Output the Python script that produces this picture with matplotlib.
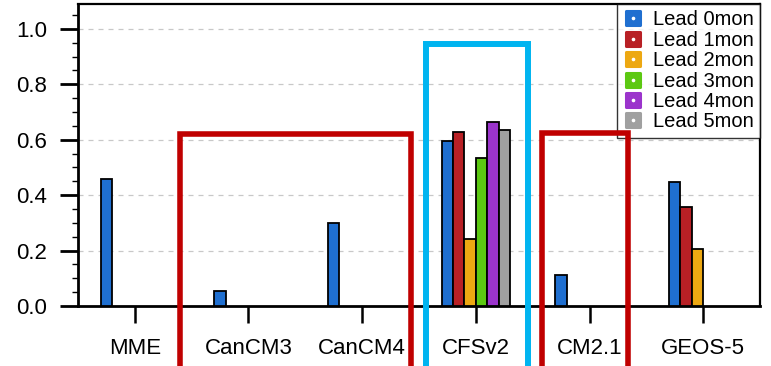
import matplotlib
matplotlib.use("Agg")
import matplotlib.pyplot as plt
import numpy as np
from matplotlib.patches import Rectangle
from matplotlib.lines import Line2D
from matplotlib.markers import MarkerStyle
from matplotlib.legend_handler import HandlerTuple
from matplotlib.ticker import MultipleLocator

plt.rcParams['font.family'] = ['Liberation Sans', 'DejaVu Sans']

models = ["MME", "CanCM3", "CanCM4", "CFSv2", "CM2.1", "GEOS-5"]
leads = ["Lead 0mon", "Lead 1mon", "Lead 2mon", "Lead 3mon", "Lead 4mon", "Lead 5mon"]
colors = ["#1f6fd0", "#b82025", "#eda812", "#5cc812", "#9b34cc", "#a0a0a0"]

# values per lead (NaN = no bar)
nan = np.nan
lead0 = [0.46, 0.053, 0.30, 0.597, 0.111, 0.449]
lead1 = [nan, nan, nan, 0.629, nan, 0.356]
lead2 = [nan, nan, nan, 0.243, nan, 0.205]
lead3 = [nan, nan, nan, 0.533, nan, nan]
lead4 = [nan, nan, nan, 0.665, nan, nan]
lead5 = [nan, nan, nan, 0.634, nan, nan]
series = [lead0, lead1, lead2, lead3, lead4, lead5]

fig = plt.figure(figsize=(7.71, 3.66), dpi=100)
ax = fig.add_axes([78/771, 60/366, (760-78)/771, (362-60)/366])

x = np.arange(len(models))
w = 0.1
for k, vals in enumerate(series):
    ax.bar(x + (k - 2.5) * w, vals, width=w, color=colors[k],
           edgecolor="black", linewidth=1.3, zorder=3)

ax.set_xlim(-0.5, 5.5)
ax.set_ylim(0, 1.09)
ax.set_xticks(x)
ax.set_xticklabels(models, fontsize=16)
ax.yaxis.set_major_locator(MultipleLocator(0.2))
ax.yaxis.set_minor_locator(MultipleLocator(0.05))
ax.set_yticks([0.0, 0.2, 0.4, 0.6, 0.8, 1.0])
ax.set_yticklabels(["0.0", "0.2", "0.4", "0.6", "0.8", "1.0"], fontsize=16)
ax.tick_params(axis='y', which='major', direction='out', length=13, width=2, pad=9)
ax.tick_params(axis='y', which='minor', direction='out', length=4.5, width=1)
ax.tick_params(axis='x', which='major', direction='out', length=12, width=1.8, pad=11)
ax.tick_params(axis='x', which='minor', bottom=False)

for yv in [0.2, 0.4, 0.6, 0.8, 1.0]:
    ax.axhline(yv, color="#c8c8c8", linestyle=(0, (4, 4)), linewidth=0.9, zorder=1)

for s in ["left", "bottom"]:
    ax.spines[s].set_linewidth(2.0)
for s in ["top", "right"]:
    ax.spines[s].set_linewidth(1.6)

handles = []
for c in colors:
    sq = Line2D([], [], marker=MarkerStyle('s', joinstyle='round'), markersize=9.5,
                markerfacecolor=c, markeredgecolor=c, markeredgewidth=2.2,
                linestyle='none')
    dot = Line2D([], [], marker='o', markersize=1.6, markerfacecolor='white',
                 markeredgecolor='white', linestyle='none')
    handles.append((sq, dot))
leg = ax.legend(handles, leads, loc='upper right', bbox_to_anchor=(1, 1),
                borderaxespad=0, fontsize=14.5, frameon=True, fancybox=False,
                handler_map={tuple: HandlerTuple(ndivide=1, pad=0)},
                handlelength=0.9, handletextpad=0.55, labelspacing=0.07,
                borderpad=0.32)
leg.get_frame().set_edgecolor("black")
leg.get_frame().set_linewidth(1.0)
leg.set_zorder(5)

# highlight boxes
boxes = [
    (0.395, 2.43, 0.62, "#c00000", 4.0),
    (3.58, 4.34, 0.625, "#c00000", 4.0),
    (2.56, 3.46, 0.946, "#00b4f0", 4.3),
]
for x0, x1, ytop, col, lw in boxes:
    r = Rectangle((x0, -0.5), x1 - x0, ytop + 0.5, fill=False,
                  edgecolor=col, linewidth=lw, clip_on=False, zorder=10,
                  transform=ax.transData)
    ax.add_patch(r)

fig.savefig("out.png", dpi=100)
